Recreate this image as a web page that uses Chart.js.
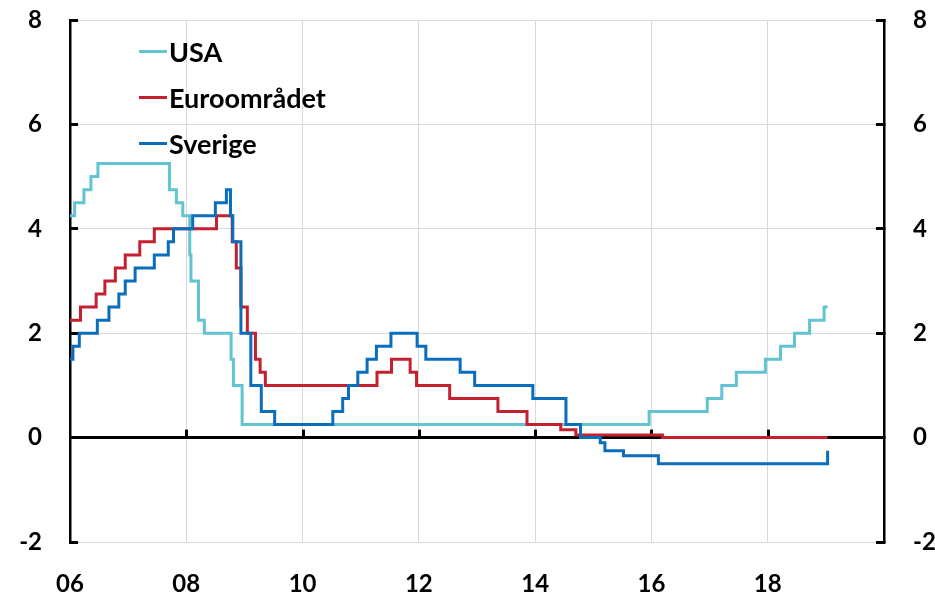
<!DOCTYPE html>
<html>
<head>
<meta charset="utf-8">
<script src="https://cdn.jsdelivr.net/npm/chart.js@4"></script>
<style>
  body { margin: 0; background: #fff; }
  #wrap { position: relative; width: 935px; height: 596px; }
  #chart { display: block; }
  #legend { position: absolute; left: 139px; top: 28px; font: 700 27px Lato, sans-serif; color: #000; }
  .row { display: flex; align-items: center; height: 46px; }
  .swatch { width: 28px; height: 3px; margin-right: 2px; }
</style>
</head>
<body>
<div id="wrap">
  <canvas id="chart" width="935" height="596"></canvas>
  <div id="legend"></div>
</div>
<script>
// ── Data (decimal years, policy rate in %) ───────────────────────────────────

const USA_X = [2006.00, 2006.08, 2006.24, 2006.36, 2006.48, 2007.71, 2007.83, 2007.94, 2008.06, 2008.08,
               2008.21, 2008.31, 2008.77, 2008.81, 2008.96, 2015.96, 2016.96, 2017.21, 2017.46, 2017.96,
               2018.22, 2018.46, 2018.72, 2018.97, 2019.03];
const USA_Y = [4.25, 4.5, 4.75, 5.0, 5.25, 4.75, 4.5, 4.25, 3.5, 3.0,
               2.25, 2.0, 1.5, 1.0, 0.25, 0.5, 0.75, 1.0, 1.25, 1.5,
               1.75, 2.0, 2.25, 2.5, 2.5];

const EUR_X = [2006.00, 2006.18, 2006.45, 2006.60, 2006.78, 2006.95, 2007.20, 2007.45, 2008.52, 2008.79,
               2008.86, 2008.94, 2009.05, 2009.19, 2009.27, 2009.36, 2011.28, 2011.53, 2011.85, 2011.96,
               2012.53, 2013.36, 2013.86, 2014.44, 2014.70, 2016.19, 2019.03];
const EUR_Y = [2.25, 2.5, 2.75, 3.0, 3.25, 3.5, 3.75, 4.0, 4.25, 3.75,
               3.25, 2.5, 2.0, 1.5, 1.25, 1.0, 1.25, 1.5, 1.25, 1.0,
               0.75, 0.5, 0.25, 0.15, 0.05, 0.0, 0.0];

const SWE_X = [2006.00, 2006.05, 2006.16, 2006.47, 2006.67, 2006.84, 2006.95, 2007.12, 2007.45, 2007.69,
               2007.78, 2008.11, 2008.50, 2008.69, 2008.76, 2008.80, 2008.94, 2009.11, 2009.29, 2009.52,
               2010.52, 2010.69, 2010.79, 2010.95, 2011.11, 2011.27, 2011.52, 2011.97, 2012.12, 2012.71,
               2012.96, 2013.96, 2014.53, 2014.78, 2015.12, 2015.20, 2015.52, 2016.12, 2019.03];
const SWE_Y = [1.5, 1.75, 2.0, 2.25, 2.5, 2.75, 3.0, 3.25, 3.5, 3.75,
               4.0, 4.25, 4.5, 4.75, 4.25, 3.75, 2.0, 1.0, 0.5, 0.25,
               0.5, 0.75, 1.0, 1.25, 1.5, 1.75, 2.0, 1.75, 1.5, 1.25,
               1.0, 0.75, 0.25, 0.0, -0.1, -0.25, -0.35, -0.5, -0.25];

const SERIES_NAMES = ['USA', 'Euroområdet', 'Sverige'];
const X_TICK_LABELS = ['06', '08', '10', '12', '14', '16', '18'];
const Y_TICK_VALUES = [-2, 0, 2, 4, 6, 8];

const COLORS = ['#62C3D1', '#C3212F', '#0A6EBD'];
const GRID = '#d9d9d9';

const zip = (xs, ys) => xs.map((x, i) => ({ x, y: ys[i] }));

Chart.defaults.font.family = 'Lato, sans-serif';
Chart.defaults.font.weight = 'bold';
Chart.defaults.color = '#000';

// small upward tick marks on the zero line
const zeroTicks = {
  id: 'zeroTicks',
  beforeDatasetsDraw(chart) {
    const { ctx, scales: { x, y } } = chart;
    const y0 = y.getPixelForValue(0);
    ctx.save();
    ctx.strokeStyle = '#000';
    ctx.lineWidth = 3;
    x.ticks.forEach(t => {
      if (t.value <= x.min || t.value >= x.max) return;
      const px = Math.round(x.getPixelForValue(t.value)) + 0.5;
      ctx.beginPath();
      ctx.moveTo(px, y0);
      ctx.lineTo(px, y0 - 8);
      ctx.stroke();
    });
    ctx.restore();
  },
};

// fixed axis sizes; tick padding is only there to push labels away from inward ticks
function fixY(width) {
  return s => {
    s.width = width;
    s.paddingTop = 14;
    s.paddingBottom = 14;
  };
}

const series = [[USA_X, USA_Y], [EUR_X, EUR_Y], [SWE_X, SWE_Y]];

const chart = new Chart(document.getElementById('chart'), {
  type: 'line',
  data: {
    datasets: series.map(([xs, ys], i) => ({
      label: SERIES_NAMES[i],
      data: zip(xs, ys),
      borderColor: COLORS[i],
      borderWidth: 3,
      pointRadius: 0,
      stepped: true,
      fill: false,
      order: 3 - i,
    })),
  },
  options: {
    responsive: false,
    animation: false,
    devicePixelRatio: 1,
    layout: { padding: { top: 20, left: 0, right: 0, bottom: 0 } },
    plugins: { legend: { display: false }, tooltip: { enabled: false } },
    scales: {
      x: {
        type: 'linear',
        min: 2006,
        max: 2020,
        afterFit: s => { s.height = 54; },
        border: { display: false },
        grid: {
          drawTicks: false,
          color: c => (c.tick.value === 2006 || c.tick.value === 2020) ? 'rgba(0,0,0,0)' : GRID,
          lineWidth: 1,
        },
        ticks: {
          stepSize: 2,
          autoSkip: false,
          maxRotation: 0,
          padding: 28,
          font: { size: 24, weight: 'bold' },
          callback: v => X_TICK_LABELS[(v - 2006) / 2] || '',
        },
      },
      y: {
        position: 'left',
        min: Y_TICK_VALUES[0],
        max: Y_TICK_VALUES[Y_TICK_VALUES.length - 1],
        afterFit: fixY(70),
        afterBuildTicks: s => { s.ticks = Y_TICK_VALUES.map(v => ({ value: v })); },
        border: { display: true, color: '#000', width: 2.5 },
        grid: {
          color: c => c.tick.value === 0 ? '#000' : GRID,
          lineWidth: c => c.tick.value === 0 ? 3 : 1,
          drawTicks: true,
          tickLength: -8,
          tickColor: '#000',
          tickWidth: 3,
        },
        ticks: { padding: 36, font: { size: 24, weight: 'bold' } },
      },
      y2: {
        position: 'right',
        min: Y_TICK_VALUES[0],
        max: Y_TICK_VALUES[Y_TICK_VALUES.length - 1],
        afterFit: fixY(51),
        afterBuildTicks: s => { s.ticks = Y_TICK_VALUES.map(v => ({ value: v })); },
        border: { display: true, color: '#000', width: 2.5 },
        grid: {
          drawOnChartArea: false,
          drawTicks: true,
          tickLength: -8,
          tickColor: '#000',
          tickWidth: 3,
        },
        ticks: { padding: 37, font: { size: 24, weight: 'bold' } },
      },
    },
  },
  plugins: [zeroTicks],
});

// ── Legend (inside the plot, top-left) ───────────────────────────────────────

const legend = document.getElementById('legend');
chart.data.datasets
  .slice()
  .sort((a, b) => b.order - a.order)
  .forEach(ds => {
    const row = document.createElement('div');
    row.className = 'row';
    const sw = document.createElement('span');
    sw.className = 'swatch';
    sw.style.background = ds.borderColor;
    const txt = document.createElement('span');
    txt.textContent = ds.label;
    row.appendChild(sw);
    row.appendChild(txt);
    legend.appendChild(row);
  });
</script>
</body>
</html>
